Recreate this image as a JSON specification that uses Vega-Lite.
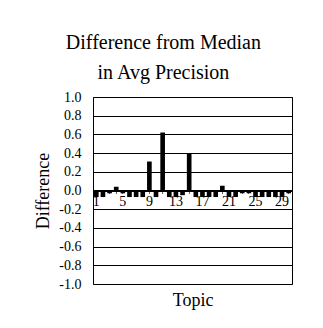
{
  "$schema": "https://vega.github.io/schema/vega-lite/v6.json",
  "width": 199,
  "height": 187,
  "padding": {"left": 34, "top": 33, "right": 31, "bottom": 10},
  "background": "white",
  "title": {
    "text": ["Difference from Median", "in Avg Precision"],
    "font": "'Liberation Serif', 'Times New Roman', serif",
    "fontSize": 20,
    "fontWeight": "normal",
    "lineHeight": 30,
    "color": "black",
    "anchor": "middle",
    "frame": "bounds",
    "offset": 7
  },
  "data": {
    "values": [
      {"topic": 1, "diff": -0.07},
      {"topic": 2, "diff": -0.07},
      {"topic": 3, "diff": -0.03},
      {"topic": 4, "diff": 0.04},
      {"topic": 5, "diff": -0.03},
      {"topic": 6, "diff": -0.07},
      {"topic": 7, "diff": -0.07},
      {"topic": 8, "diff": -0.07},
      {"topic": 9, "diff": 0.31},
      {"topic": 10, "diff": -0.07},
      {"topic": 11, "diff": 0.62},
      {"topic": 12, "diff": -0.07},
      {"topic": 13, "diff": -0.07},
      {"topic": 14, "diff": -0.05},
      {"topic": 15, "diff": 0.40},
      {"topic": 16, "diff": -0.07},
      {"topic": 17, "diff": -0.07},
      {"topic": 18, "diff": -0.07},
      {"topic": 19, "diff": -0.07},
      {"topic": 20, "diff": 0.05},
      {"topic": 21, "diff": -0.07},
      {"topic": 22, "diff": -0.07},
      {"topic": 23, "diff": -0.03},
      {"topic": 24, "diff": -0.03},
      {"topic": 25, "diff": -0.07},
      {"topic": 26, "diff": -0.07},
      {"topic": 27, "diff": -0.07},
      {"topic": 28, "diff": -0.07},
      {"topic": 29, "diff": -0.07},
      {"topic": 30, "diff": -0.03}
    ]
  },
  "mark": {"type": "bar", "color": "black"},
  "encoding": {
    "x": {
      "field": "topic",
      "type": "ordinal",
      "scale": {"paddingInner": 0.3, "paddingOuter": 0.15},
      "axis": {
        "title": "Topic",
        "titleFont": "'Liberation Serif', 'Times New Roman', serif",
        "titleFontSize": 18,
        "titleFontWeight": "normal",
        "titleColor": "black",
        "titleY": 101,
        "offset": -93.5,
        "labelAngle": 0,
        "labelExpr": "datum.value % 4 == 1 ? datum.label : ''",
        "labelFont": "'Liberation Serif', 'Times New Roman', serif",
        "labelFontSize": 14,
        "labelColor": "black",
        "labelPadding": 1,
        "tickSize": 3,
        "tickColor": "#666",
        "domainColor": "black",
        "domainWidth": 2,
        "grid": false
      }
    },
    "y": {
      "field": "diff",
      "type": "quantitative",
      "scale": {"domain": [-1, 1], "nice": false},
      "axis": {
        "title": "Difference",
        "titleFont": "'Liberation Serif', 'Times New Roman', serif",
        "titleFontSize": 18,
        "titleFontWeight": "normal",
        "titleColor": "black",
        "titlePadding": 6,
        "values": [-1, -0.8, -0.6, -0.4, -0.2, 0, 0.2, 0.4, 0.6, 0.8, 1],
        "labelExpr": "replace(format(datum.value, '.1f'), '\u2212', '-')",
        "labelFont": "'Liberation Serif', 'Times New Roman', serif",
        "labelFontSize": 14,
        "labelColor": "black",
        "labelPadding": 12,
        "ticks": false,
        "domain": false,
        "grid": true,
        "gridColor": "black",
        "gridOpacity": 1,
        "gridWidth": 1
      }
    }
  },
  "config": {
    "view": {"stroke": "black", "strokeWidth": 1}
  }
}
